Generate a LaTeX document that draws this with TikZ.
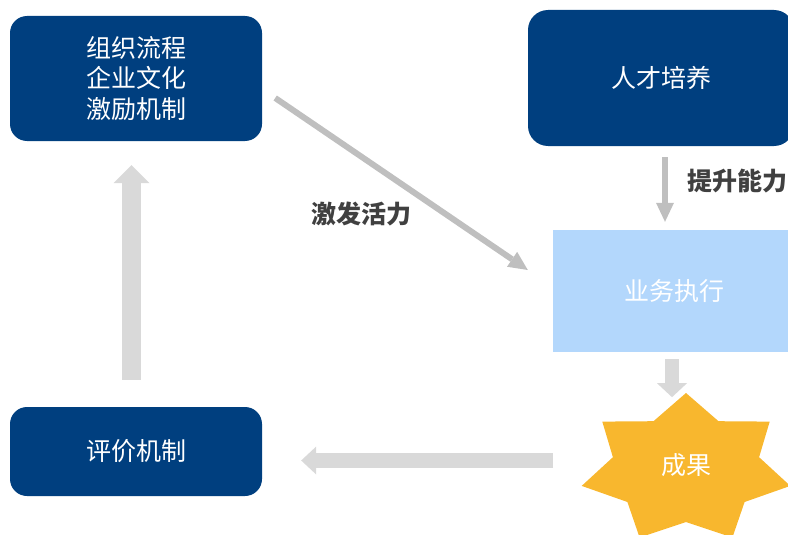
\documentclass[tikz,border=0pt]{standalone}
\usepackage{fontspec}
\setmainfont{Noto Sans CJK SC}
\usetikzlibrary{arrows.meta,calc}
\definecolor{navy}{HTML}{003F7F}
\definecolor{lightblue}{HTML}{B3D7FC}
\definecolor{gold}{HTML}{F8B72E}
\definecolor{lgray}{HTML}{D9D9D9}
\definecolor{mgray}{HTML}{BFBFBF}
\definecolor{labelgray}{HTML}{404040}
\begin{document}
\begin{tikzpicture}[x=1pt,y=-1pt,
  boxtext/.style={text=white, font=\fontsize{25}{30.5}\selectfont, align=center, inner sep=0pt},
  navybox/.style={boxtext, fill=navy, rounded corners=17pt},
  lightbox/.style={boxtext, fill=lightblue},
  arrowlabel/.style={text=labelgray, font=\fontsize{25}{30}\selectfont\bfseries, inner sep=0pt},
  thinarrow/.style={draw=mgray, line width=6pt, -{Triangle[width=18pt,length=19pt,line width=0pt]}},
  blockarrow/.style={draw=lgray}
]
\useasboundingbox (0,0) rectangle (788,535);

% boxes
\node[navybox, minimum width=252pt, minimum height=125pt] (b1) at (136,78.5) {组织流程\\企业文化\\激励机制};
\node[navybox, rounded corners=20pt, minimum width=266pt, minimum height=136pt] (b2) at (661,78) {人才培养};
\node[lightbox, minimum width=242pt, minimum height=122pt] (b3) at (674,291) {业务执行};
\node[navybox, minimum width=252pt, minimum height=89pt] (b4) at (136,451.5) {评价机制};

% star
\fill[gold] (686,393) -- (653.5,421.2) -- (602.3,421.6) -- (612.9,457.2) -- (581.7,485.9)
  -- (627.4,502.0) -- (639.6,537.5) -- (686,522) -- (732.4,537.5) -- (744.6,502.0)
  -- (790.3,485.9) -- (759.1,457.2) -- (769.7,421.6) -- (718.5,421.2) -- cycle;
\node[boxtext] (star) at (686,465) {成果};

% labels
\node[arrowlabel] (lab1) at (361,214) {激发活力};
\node[arrowlabel] (lab2) at (737,181) {提升能力};

% connector end points
\coordinate (d1) at ($(b1.east)+(13,19.5)$);
\coordinate (d2) at ($(b3.west)+(-25,-21)$);
\coordinate (p1) at ($(b2.south)+(4,11)$);
\coordinate (p2) at ($(b3.north)+(-9,-8)$);
\coordinate (q1) at ($(b3.south)+(-2,7)$);
\coordinate (q2) at ($(b3.south)+(-2,45)$);
\coordinate (l1) at ($(star)+(-133,-4.5)$);
\coordinate (l2) at ($(b4.east)+(39,9)$);
\coordinate (u1) at ($(b4.north)+(-4.5,-27)$);
\coordinate (u2) at ($(b1.south)+(-4.5,24)$);

% arrows
\draw[thinarrow] (d1) -- (d2);
\draw[thinarrow] (p1) -- (p2);
\draw[blockarrow, line width=14pt, -{Triangle[width=30pt,length=14pt,line width=0pt]}] (q1) -- (q2);
\draw[blockarrow, line width=15pt, -{Triangle[width=28pt,length=15pt,line width=0pt]}] (l1) -- (l2);
\draw[blockarrow, line width=19pt, -{Triangle[width=36pt,length=18pt,line width=0pt]}] (u1) -- (u2);
\end{tikzpicture}
\end{document}
